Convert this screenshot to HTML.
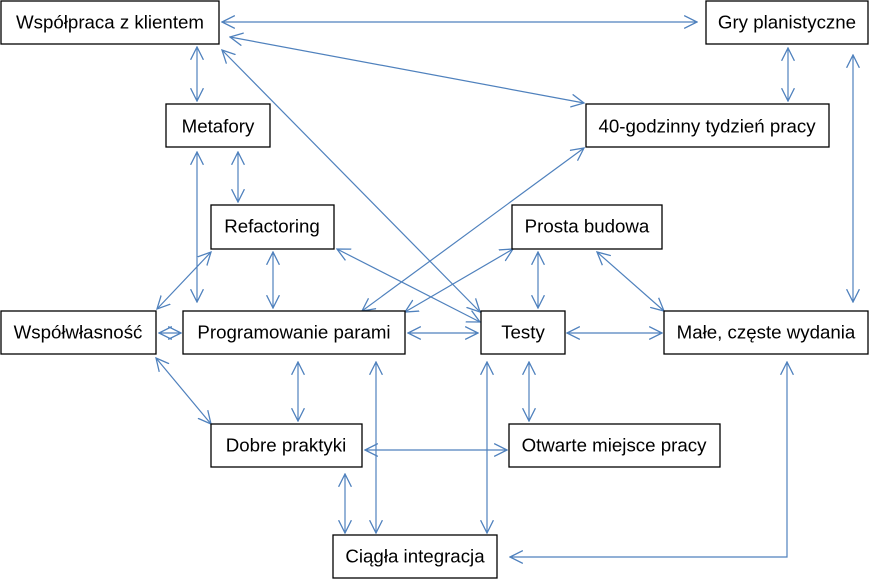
<!DOCTYPE html>
<html><head><meta charset="utf-8"><style>
html,body{margin:0;padding:0;background:#fff;width:869px;height:579px;overflow:hidden}
svg text{font-family:"Liberation Sans",sans-serif;font-size:18.7px;fill:#000}
</style></head><body>
<svg width="869" height="579" xmlns="http://www.w3.org/2000/svg">
<defs>
<marker id="a" viewBox="0 0 12 12" refX="11" refY="6" markerWidth="14" markerHeight="14" markerUnits="userSpaceOnUse" orient="auto-start-reverse">
<path d="M0,0.5 L11,6 L0,11.5" fill="none" stroke="#4f81bd" stroke-width="1.1"/>
</marker>
</defs>
<g stroke="#4f81bd" stroke-width="1.2" fill="none" marker-start="url(#a)" marker-end="url(#a)">
<line x1="222" y1="22" x2="697" y2="22"/>
<line x1="230" y1="37" x2="584" y2="103"/>
<line x1="197" y1="47" x2="197" y2="101"/>
<line x1="222" y1="50" x2="480" y2="312"/>
<line x1="788" y1="48" x2="788" y2="101"/>
<line x1="853" y1="55" x2="853" y2="302"/>
<line x1="238" y1="152" x2="238" y2="202"/>
<line x1="197" y1="152" x2="197" y2="302"/>
<line x1="584" y1="148" x2="362" y2="311"/>
<line x1="211" y1="252" x2="157" y2="309"/>
<line x1="273" y1="252" x2="273" y2="308"/>
<line x1="337" y1="249" x2="480" y2="322"/>
<line x1="513" y1="249" x2="405" y2="312"/>
<line x1="538" y1="252" x2="538" y2="308"/>
<line x1="597" y1="252" x2="664" y2="311"/>
<line x1="159" y1="333" x2="181" y2="333"/>
<line x1="408" y1="333" x2="478" y2="333"/>
<line x1="567" y1="333" x2="662" y2="333"/>
<line x1="156" y1="358" x2="211" y2="424"/>
<line x1="298" y1="362" x2="298" y2="421"/>
<line x1="376" y1="362" x2="376" y2="533"/>
<line x1="487" y1="362" x2="487" y2="533"/>
<line x1="529" y1="362" x2="529" y2="421"/>
<line x1="365" y1="450" x2="507" y2="450"/>
<line x1="345" y1="474" x2="345" y2="533"/>
<polyline points="787,362 787,557 510,557"/>
</g>
<g fill="#fff" stroke="#000" stroke-width="1.3">
<rect x="1" y="1" width="218" height="43"/>
<rect x="706" y="1" width="162" height="43"/>
<rect x="166" y="104" width="104" height="43"/>
<rect x="586" y="104" width="243" height="43"/>
<rect x="211" y="205" width="123" height="44"/>
<rect x="512" y="205" width="150" height="44"/>
<rect x="1" y="311" width="155" height="43"/>
<rect x="183" y="311" width="222" height="43"/>
<rect x="481" y="311" width="84" height="43"/>
<rect x="664" y="311" width="204" height="43"/>
<rect x="211" y="424" width="151" height="43"/>
<rect x="509" y="424" width="211" height="43"/>
<rect x="333" y="535" width="164" height="43"/>
</g>
<g text-anchor="middle" dominant-baseline="central">
<text x="110" y="22">Współpraca z klientem</text>
<text x="787" y="22">Gry planistyczne</text>
<text x="218" y="126">Metafory</text>
<text x="707" y="126">40-godzinny tydzień pracy</text>
<text x="272" y="226">Refactoring</text>
<text x="587" y="226">Prosta budowa</text>
<text x="78" y="332">Współwłasność</text>
<text x="294" y="332">Programowanie parami</text>
<text x="523" y="332">Testy</text>
<text x="766" y="332">Małe, częste wydania</text>
<text x="286" y="445">Dobre praktyki</text>
<text x="614" y="445">Otwarte miejsce pracy</text>
<text x="415" y="556">Ciągła integracja</text>
</g>
</svg>
</body></html>
